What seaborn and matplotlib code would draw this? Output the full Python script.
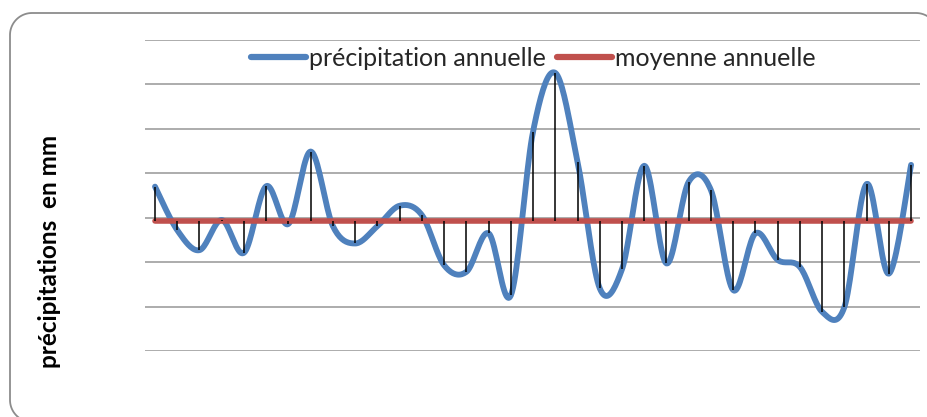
import numpy as np
import pandas as pd
import matplotlib
matplotlib.use("Agg")
import matplotlib.pyplot as plt
import seaborn as sns
from matplotlib.lines import Line2D

# ---- data ----
years = list(range(35))
precip = [370, 272, 227, 295, 221, 371, 286, 449, 281, 242,
          281, 327, 306, 193, 178, 265, 125, 494, 626, 426,
          141, 184, 417, 197, 381, 362, 137, 265, 205, 189,
          88, 99, 376, 174, 419]
mean_value = 292
gridlines = [0, 100, 200, 300, 400, 500, 600, 700]
label_series = "précipitation annuelle"
label_mean = "moyenne annuelle"
ylabel = "précipitations  en mm"

BLUE = "#4F81BD"
RED = "#C0504D"


def smooth(x, y, n=20):
    """Catmull-Rom (Excel-like) smoothing for display."""
    x = np.asarray(x, float)
    y = np.asarray(y, float)
    px = np.concatenate([[x[0]], x, [x[-1]]])
    py = np.concatenate([[y[0]], y, [y[-1]]])
    xs, ys = [], []
    t = np.linspace(0, 1, n, endpoint=False)
    for i in range(1, len(px) - 2):
        p0, p1, p2, p3 = (np.array([px[j], py[j]]) for j in (i - 1, i, i + 1, i + 2))
        c1 = p1 + (p2 - p0) / 6
        c2 = p2 - (p3 - p1) / 6
        b = ((1 - t) ** 3)[:, None] * p1 + (3 * (1 - t) ** 2 * t)[:, None] * c1 \
            + (3 * (1 - t) * t ** 2)[:, None] * c2 + (t ** 3)[:, None] * p2
        xs.extend(b[:, 0]); ys.extend(b[:, 1])
    xs.append(x[-1]); ys.append(y[-1])
    return np.array(xs), np.array(ys)


sns.set_theme(style="white")
plt.rcParams["font.family"] = ["Lato", "DejaVu Sans"]

W, H = 927, 417
fig = plt.figure(figsize=(W / 100, H / 100), dpi=100)

# background axes in pixel units for the rounded frame
bg = fig.add_axes([0, 0, 1, 1])
bg.set_xlim(0, W); bg.set_ylim(H, 0)
bg.axis("off")
r = 22
L, T, R, B = 10, 13, 938, 422
a1 = np.linspace(np.pi, 1.5 * np.pi, 20)
a2 = np.linspace(1.5 * np.pi, 2 * np.pi, 20)
a0 = np.linspace(0.5 * np.pi, np.pi, 20)
fx = np.concatenate([L + r + r * np.cos(a0), L + r + r * np.cos(a1),
                     R - r + r * np.cos(a2), [R]])
fy = np.concatenate([B - r + r * np.sin(a0), T + r + r * np.sin(a1),
                     T + r + r * np.sin(a2), [B]])
bg.plot(fx, fy, color="#8C8C8C", linewidth=1.3, clip_on=True)

ax = fig.add_axes([145 / W, 1 - 351 / H, (920 - 145) / W, (351 - 40) / H])

# gridlines
for g in gridlines:
    ax.axhline(g, color="#A6A6A6", linewidth=1.3, zorder=0)

sx, sy = smooth(years, precip)
df_curve = pd.DataFrame({"x": sx, "y": sy})
sns.lineplot(data=df_curve, x="x", y="y", ax=ax, color=BLUE, linewidth=4.2,
             sort=False, zorder=2)
df_mean = pd.DataFrame({"x": [years[0], years[-1]], "y": [mean_value, mean_value]})
sns.lineplot(data=df_mean, x="x", y="y", ax=ax, color=RED, linewidth=4,
             zorder=3, solid_capstyle="round")
ax.vlines(years, mean_value, precip, color="black", linewidth=1.1, zorder=4)

ax.set_xlim(-0.45, 34.4)
ax.set_ylim(0, 700)
ax.set_xticks([]); ax.set_yticks([])
ax.set_xlabel(""); ax.set_ylabel("")
for s in ax.spines.values():
    s.set_visible(False)
ax.patch.set_alpha(0)

handles = [Line2D([], [], color=BLUE, linewidth=4.5),
           Line2D([], [], color=RED, linewidth=4.5)]
fig.legend(handles, [label_series, label_mean], loc="center",
           bbox_to_anchor=(533 / W, 1 - 58 / H), ncol=2, frameon=False,
           fontsize=18, handlelength=2.2, handletextpad=0.12, columnspacing=0.45)

fig.text(50 / W, 1 - 251 / H, ylabel, rotation=90, ha="center", va="center",
         fontsize=17.5, fontweight="bold", color="black")

fig.savefig("out.png", dpi=100)
